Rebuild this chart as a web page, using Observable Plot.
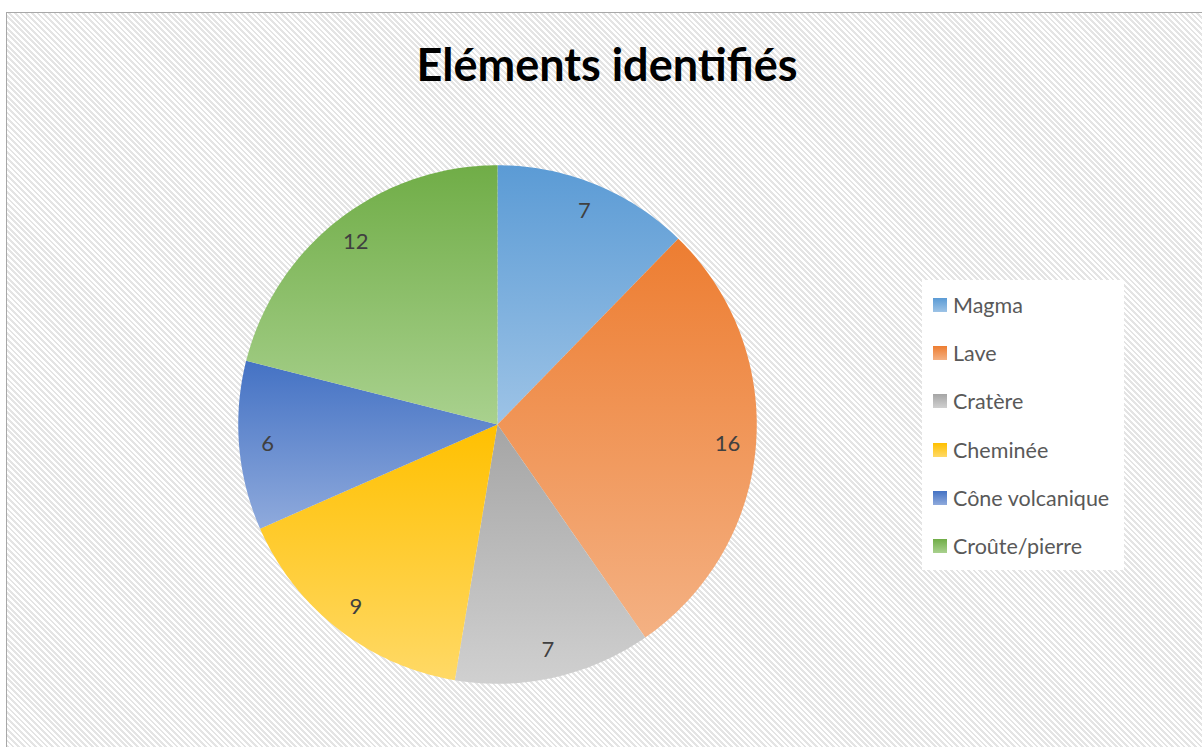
<!DOCTYPE html>
<html>
<head>
<meta charset="utf-8">
<script src="https://cdn.jsdelivr.net/npm/d3@7"></script>
<script src="https://cdn.jsdelivr.net/npm/@observablehq/plot@0.6"></script>
<style>
  html, body { margin: 0; padding: 0; background: #fff; overflow: hidden; }
  #frame {
    position: absolute; left: 6px; top: 12px; width: 1220px; height: 760px;
    border-left: 1.5px solid #a8a8a8; border-top: 1.5px solid #a8a8a8;
    background: repeating-linear-gradient(45deg, #ffffff 0px, #ffffff 2px, #e4e4e4 2px, #e4e4e4 4px);
  }
  #title {
    position: absolute; left: 0; width: 1214px; top: 38px; text-align: center;
    font-family: Lato, "Open Sans", sans-serif; font-weight: bold; font-size: 45px; color: #000;
    line-height: 52px;
  }
  #chart { position: absolute; left: 217px; top: 144px; }
  #legend {
    position: absolute; left: 922px; top: 280px; width: 202px; height: 290px; background: #fff;
    font-family: Lato, "Open Sans", sans-serif; font-size: 21.5px; color: #595959;
  }
  .item { position: absolute; left: 11px; height: 24px; display: flex; align-items: center; }
  .sw { width: 14px; height: 14px; margin-right: 6px; }
</style>
</head>
<body>
<svg width="0" height="0" style="position:absolute">
  <defs id="grads"></defs>
</svg>
<div id="frame"></div>
<div id="title">Eléments identifiés</div>
<div id="chart"></div>
<div id="legend"></div>
<script>
const categories = ["Magma", "Lave", "Cratère", "Cheminée", "Cône volcanique", "Croûte/pierre"];
const values = [7, 16, 7, 9, 6, 12];
const topColors = ["#5b9bd5", "#ed7d31", "#a5a5a5", "#ffc000", "#4472c4", "#70ad47"];
const bottomColors = ["#9dc3e6", "#f4b183", "#d0d0d0", "#ffd966", "#8faadc", "#a9d18e"];

// gradients
const defs = d3.select("#grads");
categories.forEach((c, i) => {
  const g = defs.append("linearGradient").attr("id", "g" + i)
    .attr("x1", 0).attr("y1", 0).attr("x2", 0).attr("y2", 1);
  g.append("stop").attr("offset", "0%").attr("stop-color", topColors[i]);
  g.append("stop").attr("offset", "100%").attr("stop-color", bottomColors[i]);
});

const arcs = d3.pie().sort(null)(values);
const points = [];
const labels = [];
arcs.forEach((a, i) => {
  const name = categories[i];
  const fill = `url(#g${i})`;
  points.push({name, fill, x: 0, y: 0});
  const n = Math.max(2, Math.ceil((a.endAngle - a.startAngle) * 60));
  for (let k = 0; k <= n; k++) {
    const t = a.startAngle + (a.endAngle - a.startAngle) * k / n;
    points.push({name, fill, x: Math.sin(t), y: Math.cos(t)});
  }
  points.push({name, fill, x: 0, y: 0});
  const m = (a.startAngle + a.endAngle) / 2;
  labels.push({x: 0.89 * Math.sin(m), y: 0.89 * Math.cos(m), text: String(values[i])});
});

const chart = Plot.plot({
  width: 560, height: 560,
  margin: 0,
  x: {domain: [-1.08, 1.08], axis: null},
  y: {domain: [-1.08, 1.08], axis: null},
  color: {type: "identity"},
  style: {background: "transparent", overflow: "visible"},
  marks: [
    Plot.line(points, {x: "x", y: "y", z: "name", fill: "fill", stroke: "none"}),
    Plot.text(labels, {x: "x", y: "y", text: "text", fill: "#404040", fontSize: 22,
      fontFamily: "Lato, 'Open Sans', sans-serif"})
  ]
});
document.getElementById("chart").appendChild(chart);

const legend = d3.select("#legend");
categories.forEach((c, i) => {
  const it = legend.append("div").attr("class", "item").style("top", (13 + i * 48.2) + "px");
  it.append("div").attr("class", "sw").style("background", `linear-gradient(${topColors[i]}, ${bottomColors[i]})`);
  it.append("span").text(c);
});
</script>
</body>
</html>
